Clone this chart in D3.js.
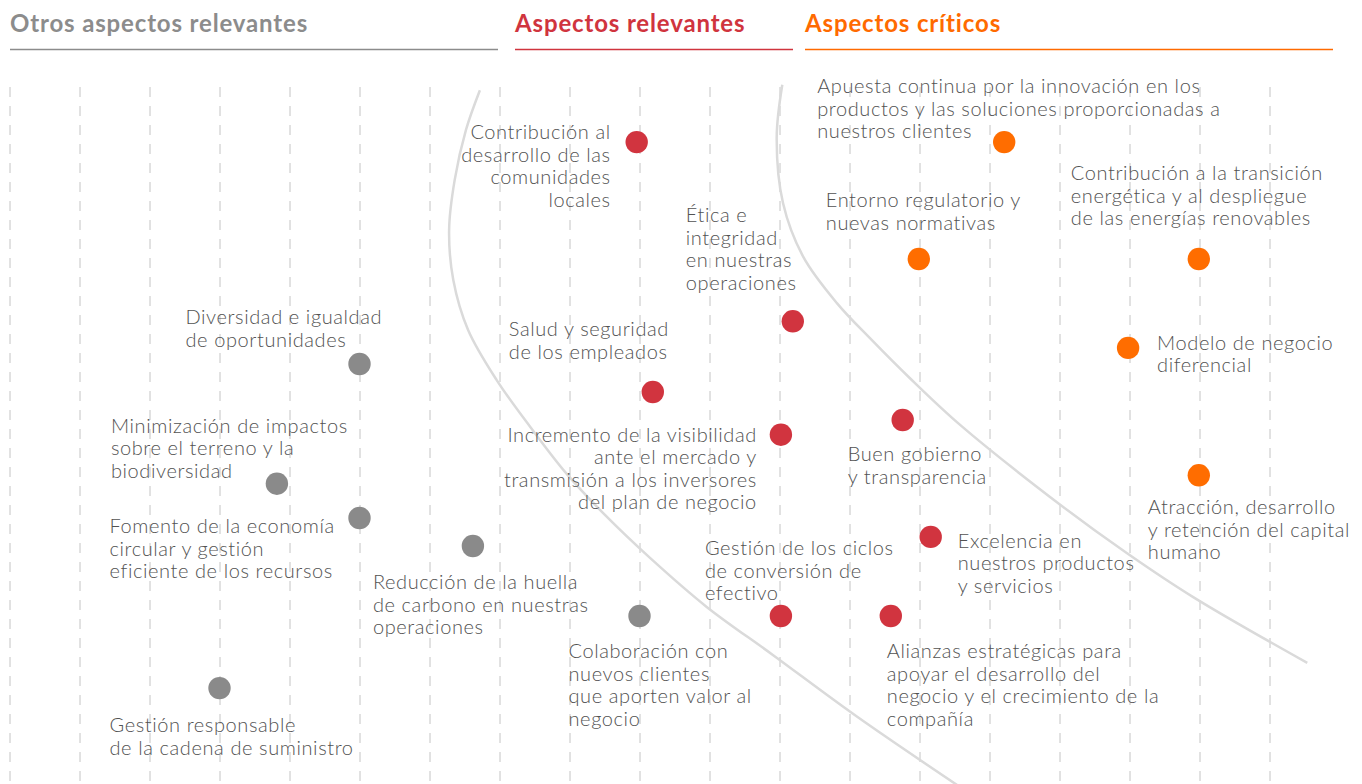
<!DOCTYPE html>
<html>
<head>
<meta charset="utf-8">
<script src="https://cdn.jsdelivr.net/npm/d3@7"></script>
<style>
  body { margin: 0; background: #fff; }
  svg { display: block; font-family: Lato, "Noto Sans", sans-serif; }
</style>
</head>
<body>
<svg id="chart"></svg>
<script>
// Categories (column headers)
const categories = ["Otros aspectos relevantes", "Aspectos relevantes", "Aspectos críticos"];

// Aspects, one entry per dot (label lines)
const aspectos = [
  ["Diversidad e igualdad", "de oportunidades"],
  ["Minimización de impactos", "sobre el terreno y  la", "biodiversidad"],
  ["Fomento de la economía", "circular y gestión", "eficiente de los recursos"],
  ["Reducción de la huella", "de carbono en nuestras", "operaciones"],
  ["Colaboración con", "nuevos clientes", "que aporten valor al", "negocio"],
  ["Gestión responsable", "de la cadena de suministro"],
  ["Contribución al", "desarrollo de las", "comunidades", "locales"],
  ["Ética e", "integridad", "en nuestras", "operaciones"],
  ["Salud y seguridad", "de los empleados"],
  ["Incremento de la visibilidad", "ante el mercado  y", "transmisión a los inversores", "del plan de negocio"],
  ["Buen gobierno", "y transparencia"],
  ["Excelencia en", "nuestros productos", "y servicios"],
  ["Gestión de los ciclos", "de conversión de", "efectivo"],
  ["Alianzas estratégicas para", "apoyar el desarrollo del", "negocio y el crecimiento de la", "compañía"],
  ["Apuesta continua por la innovación en los", "productos y las soluciones proporcionadas a", "nuestros clientes"],
  ["Entorno regulatorio y", "nuevas normativas"],
  ["Contribución a la transición", "energética y al despliegue", "de las energías renovables"],
  ["Modelo de negocio", "diferencial"],
  ["Atracción, desarrollo", "y retención del capital", "humano"]
];

// Horizontal value (grid units) and vertical value for each aspect
const impacto     = [5.0, 3.82, 5.0, 6.62, 9.0, 3.0, 8.96, 11.19, 9.19, 11.02, 12.76, 13.16, 11.02, 12.59, 14.21, 12.99, 16.99, 15.98, 16.99];
const importancia = [6.0, 4.29, 3.8, 3.4, 2.4, 1.37, 9.17, 6.61, 5.6, 4.99, 5.2, 3.53, 2.4, 2.4, 9.17, 7.5, 7.5, 6.23, 4.41];
// Category index of each aspect
const grupo       = [0, 0, 0, 0, 0, 0, 1, 1, 1, 1, 1, 1, 1, 1, 2, 2, 2, 2, 2];

// Vertical grid ticks
const gridTicks = d3.range(0, 19);

// Threshold curves, in chart units [impacto, importancia]
const curvaInterior = [[6.72, 9.91], [6.52, 9.34], [6.36, 8.63], [6.28, 7.91], [6.34, 7.2], [6.55, 6.49], [6.96, 5.77], [7.44, 5.1], [7.96, 4.43], [8.51, 3.84], [9.15, 3.23], [9.96, 2.53], [10.91, 1.84], [12.11, 0.96], [13.65, -0.09]];
const curvaExterior = [[11.04, 9.99], [10.96, 9.24], [11.05, 8.3], [11.34, 7.53], [11.82, 6.87], [12.32, 6.34], [12.86, 5.8], [13.58, 5.13], [15.01, 3.99], [15.96, 3.3], [16.91, 2.67], [18.54, 1.73]];

// Layout: label offsets from its dot [dx, dy, anchor]
const labelLayout = [
  [-174, -40, "start"], [-166, -51, "start"], [-250, 15, "start"], [-100, 43, "start"],
  [-71, 42, "start"], [-110, 44, "start"], [-26, -3, "end"], [-107, -99, "start"],
  [-144, -56, "start"], [-24, 7, "end"], [-55, 41, "start"], [27, 11, "start"],
  [-76, -61, "start"], [-4, 42, "start"], [-187, -49, "start"], [-93, -52, "start"],
  [-128, -79, "start"], [29, 2, "start"], [-51, 39, "start"]
];
// Layout: header text x and rule extents
const headerLayout = [[10, 498], [515, 793], [805, 1333]];

const colors = ["#8a8a8a", "#d1343f", "#ff6d00"];
const headerColors = ["#8c8c8c", "#d0343e", "#ff6a00"];

const width = 1362;
const height = 784;
const gridTop = 87;
const lineHeight = 22.5;

const svg = d3.select("#chart")
  .attr("width", width)
  .attr("height", height)
  .attr("viewBox", [0, 0, width, height]);

const x = d3.scaleLinear([0, 18], [9.5, 1269.5]);
const y = d3.scaleLinear([0, 10], [784, 84]);

// Dashed vertical grid
svg.append("g")
  .attr("transform", `translate(0,${gridTop})`)
  .call(d3.axisBottom(x).tickValues(gridTicks).tickSize(height - gridTop).tickFormat(""))
  .call(g => g.select(".domain").remove())
  .call(g => g.selectAll(".tick line")
    .attr("stroke", "#c4c4c4")
    .attr("stroke-width", 1)
    .attr("stroke-dasharray", "10,9"));

// Headers with their rules
const headers = svg.append("g");
categories.forEach((c, i) => {
  headers.append("text")
    .attr("x", headerLayout[i][0])
    .attr("y", 32)
    .attr("fill", headerColors[i])
    .attr("font-size", 24)
    .attr("font-weight", 700)
    .attr("letter-spacing", 0.85)
    .text(c);
  headers.append("line")
    .attr("x1", headerLayout[i][0])
    .attr("x2", headerLayout[i][1])
    .attr("y1", 49.5)
    .attr("y2", 49.5)
    .attr("stroke", headerColors[i])
    .attr("stroke-width", 1.3);
});

// Threshold curves
const line = d3.line()
  .x(d => x(d[0]))
  .y(d => y(d[1]))
  .curve(d3.curveCatmullRom.alpha(0.5));

[curvaInterior, curvaExterior].forEach(c => {
  svg.append("path")
    .attr("fill", "none")
    .attr("stroke", "#dadada")
    .attr("stroke-width", 2.5)
    .attr("d", line(c));
});

// Labels
const labels = svg.append("g")
  .attr("fill", "#525252")
  .attr("font-size", 20)
  .attr("font-weight", 300)
  .attr("letter-spacing", 0.6);

aspectos.forEach((lines, i) => {
  const [dx, dy, anchor] = labelLayout[i];
  const px = x(impacto[i]) + dx;
  const py = y(importancia[i]) + dy;
  labels.append("text")
    .attr("text-anchor", anchor)
    .selectAll("tspan")
    .data(lines)
    .join("tspan")
    .attr("x", px)
    .attr("y", (_, j) => py + j * lineHeight)
    .text(d => d);
});

// Dots
svg.append("g")
  .selectAll("circle")
  .data(aspectos.map((_, i) => i))
  .join("circle")
  .attr("cx", i => x(impacto[i]))
  .attr("cy", i => y(importancia[i]))
  .attr("r", 11.2)
  .attr("fill", i => colors[grupo[i]]);
</script>
</body>
</html>
